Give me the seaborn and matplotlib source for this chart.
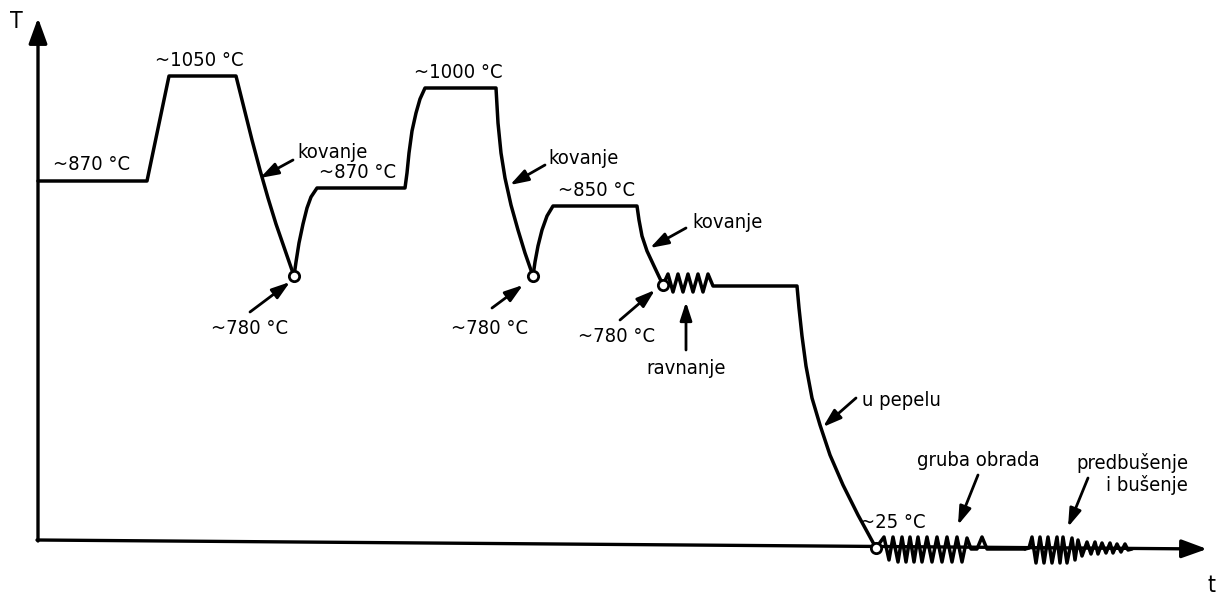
import pandas as pd
import matplotlib.pyplot as plt
import seaborn as sns

# Schematic temperature-time path (t, T in drawing units, T grows upward)
seg1_t = [38, 147, 169, 236, 244, 252, 260, 268, 276, 285, 294]
seg1_T = [417, 417, 522, 522, 490, 458, 428, 400, 374, 348, 322]

seg2_t = [294, 296, 299, 303, 307, 311, 317, 405, 407, 409, 412, 416, 420, 425, 496, 498, 501, 505, 511, 518, 525, 533]
seg2_T = [322, 336, 355, 374, 390, 401, 410, 410, 425, 445, 467, 485, 499, 510, 510, 475, 445, 420, 393, 368, 345, 322]

seg3_t = [533, 535, 538, 542, 547, 553, 637, 639, 642, 647, 654, 663]
seg3_T = [322, 336, 352, 368, 382, 392, 392, 378, 362, 347, 332, 313]

# ravnanje zigzag, holding, cooling in ash
seg4_t = [663, 668, 673, 678, 683, 688, 693, 698, 703, 708, 713, 797,
          799, 802, 806, 812, 820, 830, 843, 858, 876]
seg4_T = [313, 324, 306, 324, 306, 324, 306, 324, 306, 324, 312, 312,
          290, 262, 232, 200, 173, 143, 113, 83, 50]

# gruba obrada
seg5_t = [876, 884, 889, 893, 898, 902, 906, 910, 914, 918, 922, 927, 932, 937,
          942, 947, 952, 957, 962, 967, 971, 977, 982, 987, 1025]
seg5_T = [50, 61, 38, 61, 36, 61, 36, 61, 36, 61, 36, 61, 36, 61,
          36, 61, 36, 61, 36, 60, 49, 49, 61, 49, 49]

# predbusenje i busenje
seg6_t = [1025, 1029, 1032, 1036, 1040, 1044, 1048, 1052, 1057, 1060, 1063, 1067,
          1072, 1075, 1078, 1082, 1087, 1091, 1095, 1098, 1102, 1106, 1110, 1113,
          1117, 1121, 1125, 1128, 1132]
seg6_T = [49, 50, 61, 35, 61, 35, 61, 35, 61, 35, 61, 35,
          60, 38, 58, 42, 56, 44, 56, 44, 55, 45, 55, 45,
          54, 46, 54, 48, 49]

circle_t = [294, 533, 663, 876]
circle_T = [322, 322, 313, 50]

temp_labels = ['~1050 °C', '~870 °C', '~870 °C', '~1000 °C', '~850 °C', '~25 °C']
temp_t = [199, 92, 358, 458, 597, 893]
temp_T = [538, 433, 425, 525, 407, 75]

notes = ['kovanje', 'kovanje', 'kovanje', '~780 °C', '~780 °C', '~780 °C',
         'ravnanje', 'u pepelu', 'gruba obrada', 'predbušenje\ni bušenje']
note_t = [297, 548, 692, 250, 490, 617, 686, 862, 917, 1188]
note_T = [445, 440, 376, 270, 270, 261, 230, 198, 138, 124]
note_ha = ['left', 'left', 'left', 'center', 'center', 'center', 'center', 'left', 'left', 'right']
tail_t = [293, 545, 686, 250, 492, 620, 686, 856, 978, 1088]
tail_T = [438, 433, 370, 286, 290, 278, 248, 200, 123, 120]
head_t = [260, 510, 650, 290, 523, 655, 686, 823, 958, 1068]
head_T = [420, 413, 350, 316, 313, 308, 296, 171, 73, 71]

sns.set_style('white')
plt.rcParams['font.family'] = ['DejaVu Sans']
plt.rcParams['text.color'] = 'black'

fig = plt.figure(figsize=(12.2, 5.98), dpi=100)
ax = fig.add_axes([0, 0, 1, 1])
ax.set_xlim(0, 1220)
ax.set_ylim(0, 598)
ax.axis('off')

# axes with arrow heads
axis_arrow = dict(arrowstyle='-|>,head_length=0.55,head_width=0.2', lw=2.4,
                  color='black', mutation_scale=28, shrinkA=0, shrinkB=0)
ax.annotate('', xy=(38, 580), xytext=(38, 57), arrowprops=axis_arrow)
ax.annotate('', xy=(1207, 49), xytext=(37, 58), arrowprops=axis_arrow)
ax.text(16, 576, 'T', fontsize=16.5, ha='center', va='center', fontstretch='condensed')
ax.text(1212, 13, 't', fontsize=16.5, ha='center', va='center', fontstretch='condensed')

segments = [(seg1_t, seg1_T), (seg2_t, seg2_T), (seg3_t, seg3_T),
            (seg4_t, seg4_T), (seg5_t, seg5_T), (seg6_t, seg6_T)]
for st, sT in segments:
    df = pd.DataFrame({'t': st, 'T': sT})
    sns.lineplot(data=df, x='t', y='T', sort=False, estimator=None, color='black',
                 lw=2.5, ax=ax, solid_joinstyle='round')

sns.scatterplot(x=circle_t, y=circle_T, s=55, facecolor='white', edgecolor='black',
                linewidth=2, zorder=5, ax=ax)

for lab, t, T in zip(temp_labels, temp_t, temp_T):
    ax.text(t, T, lab, fontsize=14.5, ha='center', va='center', fontstretch='condensed')

note_arrow = dict(arrowstyle='-|>,head_length=0.55,head_width=0.18', lw=2,
                  color='black', mutation_scale=20, shrinkA=0, shrinkB=0)
for i, lab in enumerate(notes):
    ax.text(note_t[i], note_T[i], lab, fontsize=14.5, ha=note_ha[i], va='center',
            multialignment='right', linespacing=1.15, fontstretch='condensed')
    ax.annotate('', xy=(head_t[i], head_T[i]), xytext=(tail_t[i], tail_T[i]),
                arrowprops=note_arrow)

ax.set_xlim(0, 1220)
ax.set_ylim(0, 598)
plt.savefig('out.png', dpi=100)
plt.close()
